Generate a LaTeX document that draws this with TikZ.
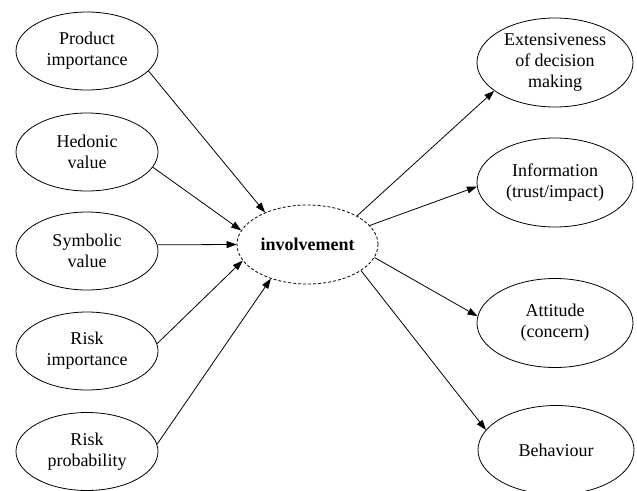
\documentclass[tikz,border=0pt]{standalone}
\usepackage{fontspec}
\setmainfont{Liberation Serif}
\usetikzlibrary{shapes.geometric,arrows.meta}
\tikzset{
  oval/.style={ellipse, draw, line width=0.8pt, inner sep=0pt, align=center,
    font=\fontsize{18}{21}\selectfont},
  lbox/.style={oval, minimum width=142pt, minimum height=78pt},
  rbox/.style={oval, minimum width=156pt, minimum height=89pt},
  cbox/.style={oval, dashed, dash pattern=on 3pt off 2pt, minimum width=141pt, minimum height=79pt,
    font=\fontsize{18}{21}\selectfont\bfseries},
  conn/.style={line width=0.8pt, -{Triangle[length=10pt,width=7pt]}}
}
\begin{document}
\begin{tikzpicture}[x=1pt,y=-1pt]
\clip (0,0) rectangle (637,490);
\node[lbox] (pi) at (87,51) {Product\\importance};
\node[lbox] (hv) at (87,152) {Hedonic\\value};
\node[lbox] (sv) at (87,251) {Symbolic\\value};
\node[lbox] (ri) at (87,351) {Risk\\importance};
\node[lbox] (rp) at (87,451.5) {Risk\\probability};
\node[cbox] (inv) at (307.5,244.5) {involvement};
\node[rbox] (ext) at (555,62.5) {Extensiveness\\of decision\\making};
\node[rbox] (inf) at (555,182.5) {Information\\(trust/impact)};
\node[rbox] (att) at (555,323) {Attitude\\(concern)};
\node[rbox] (beh) at (556,450) {Behaviour};
\draw[conn] (pi.-18) -- (inv.143);
\draw[conn] (hv.-13) -- (inv.168);
\draw[conn] (sv.5) -- (inv.180);
\draw[conn] (ri.6.4) -- (inv.194);
\draw[conn] (rp.6.8) -- (inv.223.5);
\draw[conn] (inv.30) -- (ext.205);
\draw[conn] (inv.17) -- (inf.183.3);
\draw[conn] (inv.-11) -- (att.175.6);
\draw[conn] (inv.-26.4) -- (beh.164.7);
\end{tikzpicture}
\end{document}
